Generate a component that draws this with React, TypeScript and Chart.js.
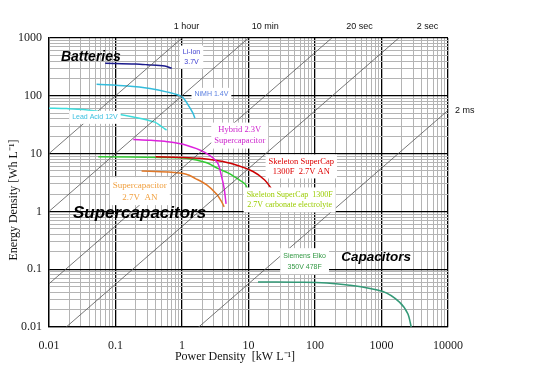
import React, { useEffect, useRef } from 'react';
import { Chart, registerables } from 'chart.js';

Chart.register(...registerables);

const SANS = '"Liberation Sans", Arial, sans-serif';
const SERIF = '"Liberation Serif", "Times New Roman", serif';

// ---- axes ----
const xTickLabels = ['0.01', '0.1', '1', '10', '100', '1000', '10000'];
const yTickLabels = ['0.01', '0.1', '1', '10', '100', '1000'];
const xTitle = 'Power Density  [kW L\u207B\u00B9]';
const yTitle = 'Energy Density [Wh L\u207B\u00B9]';

// ---- series (Power kW/L, Energy Wh/L) ----
const liIonPower = [0.07, 0.2, 0.3, 0.55, 0.7];
const liIonEnergy = [365, 355, 345, 327, 300];

const nimhPower = [0.052, 0.15, 0.33, 0.585, 1.0, 1.24, 1.46, 1.56];
const nimhEnergy = [158, 148, 134, 117, 96, 69, 50, 41];

const leadAcidPower = [0.01, 0.0184, 0.0327, 0.08, 0.185, 0.39, 0.5, 0.585];
const leadAcidEnergy = [61, 60, 58, 51, 43, 35, 29, 25.5];

const hybridPower = [0.185, 0.33, 0.6, 1.16, 2.2, 3.4, 3.9, 4.3, 4.6];
const hybridEnergy = [17.6, 17, 16, 14, 10.5, 7, 4.2, 2.5, 1.35];

const skeletonAnPower = [0.4, 1.0, 1.85, 3.5, 5.85, 11.7, 17.5, 22];
const skeletonAnEnergy = [8.8, 8.6, 8.3, 7.5, 6.6, 4.9, 3.5, 2.5];

const skeletonCarbPower = [0.055, 0.5, 1.16, 2.3, 3.5, 5, 7, 8.8, 9.8];
const skeletonCarbEnergy = [8.8, 8.6, 8.3, 7, 5.5, 4.6, 3.6, 3, 2.4];

const supercapPower = [0.247, 0.6, 1.16, 1.6, 2.33, 3.3, 3.9, 4.3];
const supercapEnergy = [5.0, 4.8, 4.4, 3.7, 2.9, 2.0, 1.5, 1.2];

const siemensPower = [13.9, 50, 105, 330, 1047, 1862, 2483, 2800];
const siemensEnergy = [0.06, 0.0595, 0.059, 0.053, 0.041, 0.027, 0.017, 0.01];

// ---- constant discharge-time lines: Energy = slope * Power ----
const timeLineNames = ['1 hour', '10 min', '20 sec', '2 sec', '2 ms'];
const timeLineSlopes = [1000, 100, 5.6, 0.55, 0.0056];

const X_MIN = 0.01, X_MAX = 10000, Y_MIN = 0.01, Y_MAX = 1000;

const isDecade = (v: number) => Math.abs(Math.log10(v) - Math.round(Math.log10(v))) < 1e-9;

function logTicks(min: number, max: number) {
  const out: { value: number; major: boolean }[] = [];
  const k0 = Math.round(Math.log10(min)), k1 = Math.round(Math.log10(max));
  for (let k = k0; k <= k1; k++) {
    for (let m = 1; m <= 9; m++) {
      const v = Number((m * Math.pow(10, k)).toPrecision(6));
      if (v > max * 1.0000001) break;
      out.push({ value: v, major: m === 1 });
    }
  }
  return out;
}

const zip = (p: number[], e: number[]) => p.map((v, i) => ({ x: v, y: e[i] }));

const seriesLabels = [
  { lines: ['Li-Ion', '3.7V'], p: 1.39, e: 469, color: '#4040d0', font: `7px ${SANS}`, lh: 9.5 },
  { lines: ['NiMH 1.4V'], p: 2.77, e: 106, color: '#5a7fe0', font: `7px ${SANS}`, lh: 9 },
  { lines: ['Lead Acid 12V'], p: 0.049, e: 42.4, color: '#3cc0e0', font: `7px ${SANS}`, lh: 9 },
  { lines: ['Hybrid 2.3V', 'Supercapacitor'], p: 7.38, e: 20.5, color: '#cc22cc', font: `8.5px ${SERIF}`, lh: 11 },
  { lines: ['Skeleton SuperCap', '1300F  2.7V AN'], p: 62.2, e: 6.0, color: '#dd0000', font: `8.5px ${SERIF}`, lh: 10 },
  { lines: ['Skeleton SuperCap  1300F', '2.7V carbonate electrolyte'], p: 41.6, e: 1.58, color: '#9acc00', font: `8px ${SERIF}`, lh: 10.5 },
  { lines: ['Supercapacitor', '2.7V  AN'], p: 0.232, e: 2.24, color: '#f0a040', font: `9px ${SERIF}`, lh: 12 },
  { lines: ['Siemens Elko', '350V 478F'], p: 69.8, e: 0.1377, color: '#339944', font: `7px ${SANS}`, lh: 11 },
];

const regionLabels = [
  { text: 'Batteries', p: 0.0151, e: 474, size: 14 },
  { text: 'Supercapacitors', p: 0.0229, e: 0.933, size: 17 },
  { text: 'Capacitors', p: 248, e: 0.163, size: 13.5 },
];

// label anchor power values for the time lines (top row), last one sits at the right side
const timeLabelPower = [1.17, 17.9, 468, 4898];
const timeLabelRightEnergy = 55;

const textPlugin = {
  id: 'ragoneText',
  afterDatasetsDraw(chart: any) {
    const { ctx, chartArea, scales } = chart;
    const xs = scales.x, ys = scales.y;
    ctx.save();
    // series labels with white boxes
    for (const lab of seriesLabels) {
      const cx = xs.getPixelForValue(lab.p), cy = ys.getPixelForValue(lab.e);
      ctx.font = lab.font;
      const w = Math.max(...lab.lines.map((l) => ctx.measureText(l).width));
      const h = lab.lh * lab.lines.length;
      ctx.fillStyle = '#ffffff';
      ctx.fillRect(cx - w / 2 - 3, cy - h / 2 - 2, w + 6, h + 4);
      ctx.fillStyle = lab.color;
      ctx.textAlign = 'center';
      ctx.textBaseline = 'middle';
      lab.lines.forEach((l, i) => ctx.fillText(l, cx, cy - h / 2 + lab.lh * (i + 0.5)));
    }
    // region labels
    for (const r of regionLabels) {
      ctx.font = `italic bold ${r.size}px ${SANS}`;
      ctx.fillStyle = '#000';
      ctx.textAlign = 'left';
      ctx.textBaseline = 'middle';
      ctx.fillText(r.text, xs.getPixelForValue(r.p), ys.getPixelForValue(r.e));
    }
    // time labels
    ctx.font = `9px ${SANS}`;
    ctx.fillStyle = '#111';
    ctx.textAlign = 'center';
    ctx.textBaseline = 'middle';
    timeLabelPower.forEach((p, i) => {
      ctx.fillText(timeLineNames[i], xs.getPixelForValue(p), chartArea.top - 11);
    });
    ctx.textAlign = 'left';
    ctx.fillText(timeLineNames[4], chartArea.right + 7, ys.getPixelForValue(timeLabelRightEnergy));
    // axis titles
    ctx.font = `12px ${SERIF}`;
    ctx.fillStyle = '#111';
    ctx.textAlign = 'center';
    ctx.fillText(xTitle, 235, 357);
    ctx.save();
    ctx.translate(14, 200);
    ctx.rotate(-Math.PI / 2);
    ctx.fillText(yTitle, 0, 0);
    ctx.restore();
    ctx.restore();
  },
};

const curve = (label: string, p: number[], e: number[], color: string) => ({
  label,
  data: zip(p, e),
  borderColor: color,
  backgroundColor: color,
  borderWidth: 1.5,
  pointRadius: 0,
  tension: 0.3,
  fill: false,
});

export default function App() {
  const ref = useRef<HTMLCanvasElement | null>(null);
  useEffect(() => {
    if (!ref.current) return;
    const timeSets = timeLineSlopes.map((k, i) => ({
      label: timeLineNames[i],
      data: [
        { x: X_MIN, y: k * X_MIN },
        { x: X_MAX, y: k * X_MAX },
      ],
      borderColor: '#555555',
      borderWidth: 0.8,
      pointRadius: 0,
      tension: 0,
      fill: false,
    }));
    const gridColor = (c: any) => (c.tick && isDecade(c.tick.value) ? '#000000' : '#b4b4b4');
    const gridWidth = (c: any) => (c.tick && isDecade(c.tick.value) ? 1.3 : 1);
    const chart = new Chart(ref.current, {
      type: 'line',
      data: {
        datasets: [
          ...timeSets,
          curve('Lead Acid 12V', leadAcidPower, leadAcidEnergy, '#3ddcdc'),
          curve('NiMH 1.4V', nimhPower, nimhEnergy, '#33bcdc'),
          curve('Li-Ion 3.7V', liIonPower, liIonEnergy, '#1c1c8c'),
          curve('Hybrid 2.3V', hybridPower, hybridEnergy, '#dd22dd'),
          curve('Skeleton 1300F AN', skeletonAnPower, skeletonAnEnergy, '#cc0000'),
          curve('Skeleton 1300F carbonate', skeletonCarbPower, skeletonCarbEnergy, '#33cc33'),
          curve('Supercapacitor 2.7V AN', supercapPower, supercapEnergy, '#e07828'),
          curve('Siemens Elko', siemensPower, siemensEnergy, '#339977'),
        ] as any,
      },
      options: {
        animation: false,
        responsive: false,
        events: [],
        layout: { padding: { left: 0, right: 102, top: 38, bottom: 0 } },
        plugins: { legend: { display: false }, tooltip: { enabled: false } },
        scales: {
          x: {
            type: 'logarithmic',
            position: 'bottom',
            min: X_MIN,
            max: X_MAX,
            afterBuildTicks: (s: any) => {
              s.ticks = logTicks(X_MIN, X_MAX);
            },
            afterFit: (s: any) => {
              s.height = 53;
            },
            ticks: {
              autoSkip: false,
              maxRotation: 0,
              padding: 12,
              color: '#1a1a1a',
              font: { family: SERIF, size: 12 },
              callback: (v: any) =>
                isDecade(Number(v)) ? xTickLabels[Math.round(Math.log10(Number(v))) + 2] : '',
            },
            grid: { color: gridColor, lineWidth: gridWidth, drawTicks: false },
            border: { display: true, color: '#000', width: 1.3 },
          },
          y: {
            type: 'logarithmic',
            position: 'left',
            min: Y_MIN,
            max: Y_MAX,
            afterBuildTicks: (s: any) => {
              s.ticks = logTicks(Y_MIN, Y_MAX);
            },
            afterFit: (s: any) => {
              s.width = 49;
            },
            ticks: {
              autoSkip: false,
              padding: 7,
              color: '#1a1a1a',
              font: { family: SERIF, size: 12 },
              callback: (v: any) =>
                isDecade(Number(v)) ? yTickLabels[Math.round(Math.log10(Number(v))) + 2] : '',
            },
            grid: { color: gridColor, lineWidth: gridWidth, drawTicks: false },
            border: { display: true, color: '#000', width: 1.3 },
          },
        },
      } as any,
      plugins: [textPlugin],
    });
    return () => chart.destroy();
  }, []);
  return (
    <div style={{ position: 'absolute', left: 0, top: 0, width: 550, height: 380, background: '#fff' }}>
      <canvas ref={ref} width={550} height={380} style={{ display: 'block' }} />
    </div>
  );
}
